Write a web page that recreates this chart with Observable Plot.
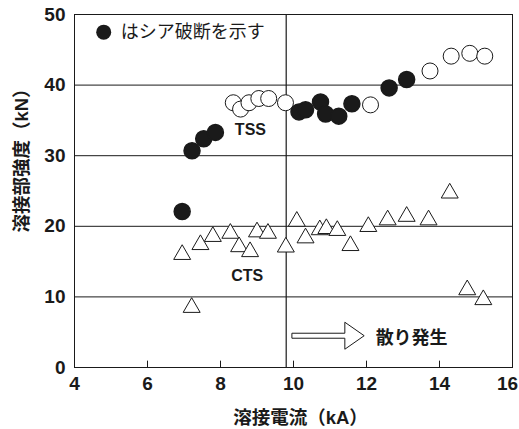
<!DOCTYPE html>
<html><head><meta charset="utf-8">
<script src="https://cdn.jsdelivr.net/npm/d3@7"></script>
<script src="https://cdn.jsdelivr.net/npm/@observablehq/plot@0.6"></script>
<style>
body{margin:0;background:#fff}
svg{font-family:"Liberation Sans","Noto Sans CJK JP",sans-serif}
</style>
</head><body><div id="chart"></div>
<script>
// TSS, shear fracture (filled circles)
const shearX = [6.95, 7.22, 7.54, 7.86, 10.15, 10.33, 10.74, 10.88, 11.24, 11.6, 12.62, 13.1];
const shearY = [22.1, 30.7, 32.4, 33.3, 36.2, 36.5, 37.6, 35.9, 35.6, 37.35, 39.6, 40.8];
// TSS, other fracture (open circles)
const tssOpenX = [8.35, 8.55, 8.78, 9.05, 9.32, 9.78, 12.11, 13.74, 14.32, 14.83, 15.24];
const tssOpenY = [37.5, 36.6, 37.5, 38.1, 38.1, 37.5, 37.2, 42.0, 44.1, 44.5, 44.1];
// CTS (triangles)
const ctsX = [6.95, 7.21, 7.45, 7.79, 8.27, 8.51, 8.81, 9.0, 9.3, 9.79, 10.09, 10.33, 10.72, 10.9, 11.2, 11.56, 12.05, 12.58, 13.1, 13.7, 14.28, 14.76, 15.2];
const ctsY = [16.0, 8.5, 17.4, 18.55, 19.0, 17.1, 16.4, 19.2, 19.0, 17.05, 20.7, 18.35, 19.5, 19.67, 19.4, 17.26, 19.96, 20.9, 21.4, 20.9, 24.7, 11.0, 9.6];

const xTicks = [4, 6, 8, 10, 12, 14];
const xLastTick = [16];
const yTicks = [0, 10, 20, 30, 40, 50];
const gridY = [10, 20, 30, 40];
const innerXTicks = [6, 8, 10, 12, 14];
const splashX = 9.8;

const xLabel = "溶接電流（kA）";
const yLabel = "溶接部強度（kN）";
const legendText = "はシア破断を示す";
const legendPos = {x: 4.8, y: 47.5, tx: 5.27};
const labels = [
  {x: 8.82, y: 33.6, text: "TSS"},
  {x: 8.73, y: 13.0, text: "CTS"}
];
const splashLabel = {x: 12.25, y: 4.1, text: "散り発生"};
const arrow = {from: 9.97, head: 11.42, to: 11.95, y: 4.43};

const shear = shearX.map((x, i) => ({x, y: shearY[i]}));
const tssOpen = tssOpenX.map((x, i) => ({x, y: tssOpenY[i]}));
const cts = ctsX.map((x, i) => ({x, y: ctsY[i]}));

const FONT = '"Liberation Sans","Noto Sans CJK JP",sans-serif';
const INK = "#1a1a1a";

function arrowMark(index, scales) {
  const X = scales.x, Y = scales.y;
  const x0 = X(arrow.from), xh = X(arrow.head), x1 = X(arrow.to), yc = Y(arrow.y);
  const s = 2.5, h = 13.5;
  const pts = [[x0, yc - s], [xh, yc - s], [xh, yc - h], [x1, yc], [xh, yc + h], [xh, yc + s], [x0, yc + s]];
  const p = document.createElementNS("http://www.w3.org/2000/svg", "polygon");
  p.setAttribute("points", pts.map(d => d.join(",")).join(" "));
  p.setAttribute("fill", "white");
  p.setAttribute("stroke", INK);
  p.setAttribute("stroke-width", "1");
  return p;
}

const chart = Plot.plot({
  width: 519,
  height: 429,
  marginLeft: 74,
  marginRight: 7,
  marginTop: 14,
  marginBottom: 62,
  style: {fontFamily: FONT, background: "#fff", color: INK},
  x: {domain: [4, 16]},
  y: {domain: [0, 50]},
  marks: [
    Plot.ruleY(gridY, {stroke: INK, strokeWidth: 1}),
    Plot.ruleX([splashX], {stroke: INK, strokeWidth: 1.2}),
    Plot.ruleX(innerXTicks, {y1: 0, y2: 0.9, stroke: INK}),
    Plot.frame({stroke: INK}),
    Plot.axisX({ticks: xTicks, tickSize: 0, tickPadding: 9, label: null, fontSize: 19, fontWeight: "bold", fill: INK}),
    Plot.axisX({ticks: xLastTick, tickSize: 0, tickPadding: 9, label: null, fontSize: 19, fontWeight: "bold", fill: INK, dx: -5}),
    Plot.axisY({ticks: yTicks, tickSize: 0, tickPadding: 9, label: null, fontSize: 19, fontWeight: "bold", fill: INK}),
    Plot.text([xLabel], {frameAnchor: "bottom", textAnchor: "middle", lineAnchor: "middle", dx: 7, dy: 51, text: d => d, fontSize: 18.5, fontWeight: "bold", fill: INK}),
    Plot.text([yLabel], {frameAnchor: "left", textAnchor: "middle", lineAnchor: "middle", dx: -52, dy: -35, rotate: -90, text: d => d, fontSize: 18.5, fontWeight: "bold", fill: INK}),
    Plot.dot(cts, {x: "x", y: "y", symbol: "triangle", r: 6.3, fill: "white", stroke: INK, strokeWidth: 1}),
    Plot.dot(tssOpen, {x: "x", y: "y", r: 8, fill: "white", stroke: INK, strokeWidth: 1}),
    Plot.dot(shear, {x: "x", y: "y", r: 8, fill: INK, stroke: INK}),
    Plot.dot([legendPos], {x: "x", y: "y", r: 7.5, fill: INK}),
    Plot.text([legendPos], {x: "tx", y: "y", text: () => legendText, textAnchor: "start", fontSize: 18, fill: INK}),
    Plot.text(labels, {x: "x", y: "y", text: "text", fontSize: 16, fontWeight: "bold", fill: INK}),
    Plot.text([splashLabel], {x: "x", y: "y", text: "text", textAnchor: "start", fontSize: 18, fontWeight: "bold", fill: INK}),
    arrowMark
  ]
});
document.getElementById("chart").appendChild(chart);
</script>
</body></html>
